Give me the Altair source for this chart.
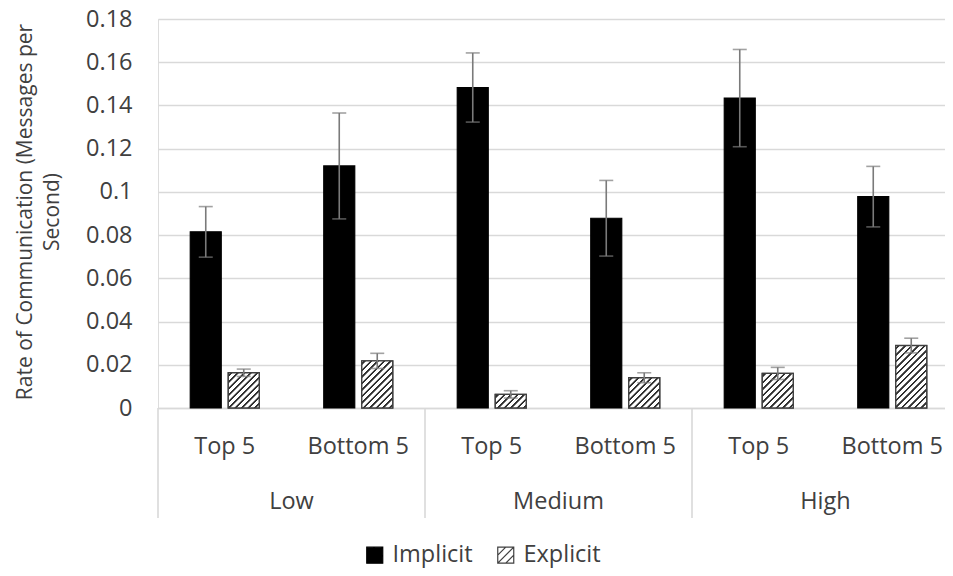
import altair as alt
import pandas as pd

# ---------------- data ----------------
groups = ["Low", "Medium", "High"]
subgroups = ["Top 5", "Bottom 5"]
series = ["Implicit", "Explicit"]

implicit_mean = [0.0815, 0.1120, 0.1483, 0.0878, 0.1434, 0.0978]
implicit_err = [0.0117, 0.0245, 0.0160, 0.0175, 0.0225, 0.0140]
explicit_mean = [0.0163, 0.0218, 0.0063, 0.0140, 0.0160, 0.0289]
explicit_err = [0.0017, 0.0035, 0.0017, 0.0023, 0.0028, 0.0034]

y_ticks = [0, 0.02, 0.04, 0.06, 0.08, 0.1, 0.12, 0.14, 0.16, 0.18]
y_title = ["Rate of Communication (Messages per", "Second)"]

# ---------------- layout / style ----------------
FONT = "Open Sans"
TXT = "#404040"
GRID = "#d9d9d9"
W_PLOT = 787
H_PLOT = 389
X_RANGE = 801
Y_MAX = 0.18
OFF_PI = 7 / 38
OFF_PO = 0.849
BAR_W = 31
LBL = 23.5

cats = [f"{g}|{s}" for g in groups for s in subgroups]
rows = []
for i, c in enumerate(cats):
    rows.append(dict(cat=c, series="Implicit", value=implicit_mean[i],
                     lo=implicit_mean[i] - implicit_err[i], hi=implicit_mean[i] + implicit_err[i]))
    rows.append(dict(cat=c, series="Explicit", value=explicit_mean[i],
                     lo=explicit_mean[i] - explicit_err[i], hi=explicit_mean[i] + explicit_err[i]))
df = pd.DataFrame(rows)

xscale = alt.Scale(domain=cats, range=[0, X_RANGE], paddingInner=0, paddingOuter=0)
oscale = alt.Scale(domain=series, paddingInner=OFF_PI, paddingOuter=OFF_PO)
yscale = alt.Scale(domain=[0, Y_MAX], nice=False, zero=True)

x_enc = alt.X("cat:N", scale=xscale, sort=cats, title=None,
              axis=alt.Axis(labelExpr="split(datum.label, '|')[1]", labelFontSize=LBL,
                            labelFont=FONT, labelColor=TXT, labelPadding=26, ticks=False,
                            tickSize=0, domainColor=GRID, domainWidth=1.6, grid=False,
                            labelAngle=0))
y_enc = alt.Y("value:Q", scale=yscale,
              axis=alt.Axis(values=y_ticks, format=".2~f", labelFontSize=LBL, labelFont=FONT,
                            labelColor=TXT, labelPadding=26, ticks=False, domain=False,
                            grid=True, gridColor=GRID, gridWidth=1.6,
                            title=y_title, titleFont=FONT, titleFontSize=21,
                            titleFontWeight="normal", titleColor=TXT, titleLineHeight=27,
                            titleX=-144, titleY=H_PLOT / 2 - 2, titleBaseline="top",
                            titleAlign="center", titleAngle=270))
xo_enc = alt.XOffset("series:N", scale=oscale, sort=series)

legend_symbol = "M-1,-1H1V1H-1Z M-1,0L0,-1 M-1,1L1,-1 M0,1L1,0"
legend_def = alt.Legend(title=None, orient="none", legendX=205, legendY=524,
                        direction="horizontal", symbolType=legend_symbol,
                        symbolSize=256, symbolStrokeWidth=1.2, labelFontSize=LBL,
                        labelFont=FONT, labelColor=TXT, labelOffset=6, columnPadding=21,
                        padding=0)

bars = alt.Chart(df).mark_bar(strokeWidth=1.2).encode(
    x=x_enc, y=y_enc, xOffset=xo_enc,
    fill=alt.Fill("series:N", sort=series,
                  scale=alt.Scale(domain=series, range=["#000000", "#ffffff"]),
                  legend=legend_def),
    stroke=alt.Stroke("series:N", sort=series,
                      scale=alt.Scale(domain=series, range=["#000000", "#404040"]),
                      legend=legend_def),
)


def hatch(h_px, w_px=BAR_W, period=6.5, half=0.9, soft=0.6, ink="#303030"):
    L = w_px + h_px
    s = L / (w_px ** 2 + h_px ** 2)
    a, b = w_px * s, h_px * s
    stops = [alt.GradientStop(offset=0, color="#ffffff")]
    c = period / 2
    last = 0.0
    while c - half - soft < L:
        for off, col in [(c - half - soft, "#ffffff"), (c - half, ink),
                         (c + half, ink), (c + half + soft, "#ffffff")]:
            o = min(max(off / L, last), 1.0)
            last = o
            stops.append(alt.GradientStop(offset=round(o, 5), color=col))
        c += period
    stops.append(alt.GradientStop(offset=1, color="#ffffff"))
    return alt.LinearGradient(gradient="linear", stops=stops, x1=0, y1=0,
                              x2=round(a, 5), y2=round(b, 5))


hatch_layers = []
for i, c in enumerate(cats):
    h_px = explicit_mean[i] / Y_MAX * H_PLOT
    hatch_layers.append(
        alt.Chart(df).transform_filter(
            (alt.datum.cat == c) & (alt.datum.series == "Explicit")
        ).mark_bar(fill=hatch(h_px), stroke="#404040", strokeWidth=1.4).encode(
            x=x_enc, y=y_enc, xOffset=xo_enc)
    )

err_rule = alt.Chart(df).mark_rule(color="#7a7a7a", strokeWidth=1.6).encode(
    x=x_enc, xOffset=xo_enc, y=alt.Y("lo:Q", scale=yscale), y2="hi:Q")
cap_lo = alt.Chart(df).mark_tick(color="#7a7a7a", thickness=1.6, size=14,
                                 orient="horizontal").encode(
    x=x_enc, xOffset=xo_enc, y=alt.Y("lo:Q", scale=yscale))
cap_hi = alt.Chart(df).mark_tick(color="#7a7a7a", thickness=1.6, size=14,
                                 orient="horizontal").encode(
    x=x_enc, xOffset=xo_enc, y=alt.Y("hi:Q", scale=yscale))

sep_df = pd.DataFrame({"cat": [f"{g}|{subgroups[0]}" for g in groups]})
seps = alt.Chart(sep_df).mark_rule(color=GRID, strokeWidth=1.6).encode(
    x=alt.X("cat:N", scale=xscale, bandPosition=0),
    y=alt.value(H_PLOT), y2=alt.value(H_PLOT + 110))

grp_df = pd.DataFrame({"cat": [f"{g}|{subgroups[1]}" for g in groups], "label": groups})
grp_text = alt.Chart(grp_df).mark_text(font=FONT, fontSize=LBL, color=TXT,
                                       baseline="alphabetic", align="center").encode(
    x=alt.X("cat:N", scale=xscale, bandPosition=0),
    y=alt.value(490), text="label:N")

chart = alt.layer(bars, *hatch_layers, err_rule, cap_lo, cap_hi, seps, grp_text).properties(
    width=W_PLOT, height=H_PLOT,
    autosize=alt.AutoSizeParams(type="none"),
    padding={"left": 150, "top": 11, "right": 0, "bottom": 160},
).configure_view(stroke=None).configure(font=FONT, background="white")

chart.save("out.html", embed_options={"renderer": "svg", "actions": False})
